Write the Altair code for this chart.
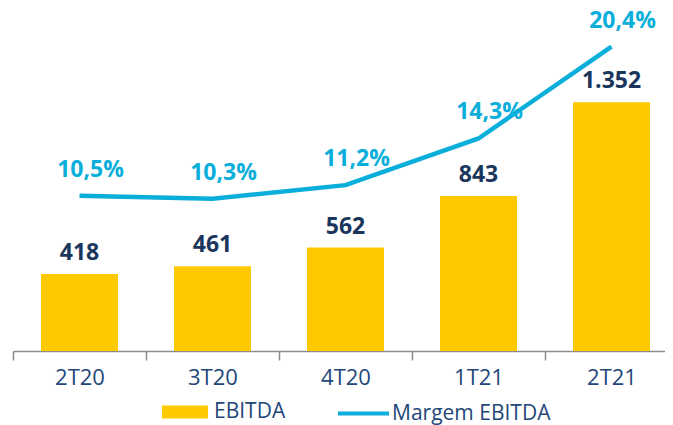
import altair as alt
import pandas as pd

# ---- data ----
periods = ["2T20", "3T20", "4T20", "1T21", "2T21"]
ebitda = [418, 461, 562, 843, 1352]
margem = [10.5, 10.3, 11.2, 14.3, 20.4]
series_bar = "EBITDA"
series_line = "Margem EBITDA"

YELLOW = "#FFC900"
CYAN = "#0AAEDA"
NAVY = "#1B365D"
AXIS_BLUE = "#23477A"
GREY = "#8C8C8C"
FONT = "Open Sans"


def fmt_int(v):
    return f"{v:,}".replace(",", ".")


def fmt_pct(v):
    return f"{v:.1f}".replace(".", ",") + "%"


df = pd.DataFrame({
    "periodo": periods,
    "ebitda": ebitda,
    "margem": margem,
    "ebitda_lbl": [fmt_int(v) for v in ebitda],
    "margem_lbl": [fmt_pct(v) for v in margem],
    "s_bar": [series_bar] * len(periods),
    "s_line": [series_line] * len(periods),
})

x_enc = alt.X(
    "periodo:N",
    sort=periods,
    scale=alt.Scale(paddingInner=0, paddingOuter=0, range=[0, 665]),
    axis=alt.Axis(
        title=None, labelAngle=0, tickBand="extent", grid=False,
        domainColor=GREY, domainWidth=1.5, tickColor=GREY, tickWidth=1.5,
        tickSize=9, labelFont=FONT, labelFontSize=22, labelColor=AXIS_BLUE,
        labelPadding=7,
    ),
)

base = alt.Chart(df).encode(x=x_enc)

y_bar = alt.Y("ebitda:Q", scale=alt.Scale(domain=[0, 1864]), axis=None)
y_line = alt.Y("margem:Q", scale=alt.Scale(domain=[0.18, 22.97]), axis=None)

bars = base.mark_bar(size=77).encode(
    y=y_bar,
    fill=alt.Fill(
        "s_bar:N",
        scale=alt.Scale(domain=[series_bar], range=[YELLOW]),
        legend=alt.Legend(
            title=None, orient="none", legendX=149, legendY=381,
            symbolType="M-1,-0.28H1V0.28H-1Z", symbolSize=2116,
            symbolStrokeWidth=0, labelFont=FONT, labelFontSize=21,
            labelColor=AXIS_BLUE, labelOffset=6,
        ),
    ),
)
bar_text = base.mark_text(
    baseline="bottom", dy=-9, font=FONT, fontWeight="bold", fontSize=23,
    color=NAVY,
).encode(y=y_bar, text="ebitda_lbl:N")

line = base.mark_line(strokeWidth=4.5).encode(
    y=y_line,
    stroke=alt.Stroke(
        "s_line:N",
        scale=alt.Scale(domain=[series_line], range=[CYAN]),
        legend=alt.Legend(
            title=None, orient="none", legendX=323, legendY=378,
            symbolType="stroke", symbolSize=2601, symbolStrokeWidth=4,
            labelFont=FONT, labelFontSize=21, labelColor=AXIS_BLUE,
            labelOffset=1,
        ),
    ),
)
line_text = base.mark_text(
    baseline="bottom", dx=11, dy=-14, font=FONT, fontWeight="bold",
    fontSize=23, color=CYAN,
).encode(y=y_line, text="margem_lbl:N")

bar_layer = alt.layer(bars, bar_text)
line_layer = alt.layer(line, line_text)

chart = (
    alt.layer(bar_layer, line_layer)
    .resolve_scale(y="independent")
    .properties(
        width=652, height=343,
        padding={"left": 5, "top": 0, "right": 0, "bottom": 74},
        autosize=alt.AutoSizeParams(type="none"),
        background="white",
    )
    .configure_view(stroke=None)
)

chart.save("out.html", embed_options={"renderer": "svg", "actions": False})
